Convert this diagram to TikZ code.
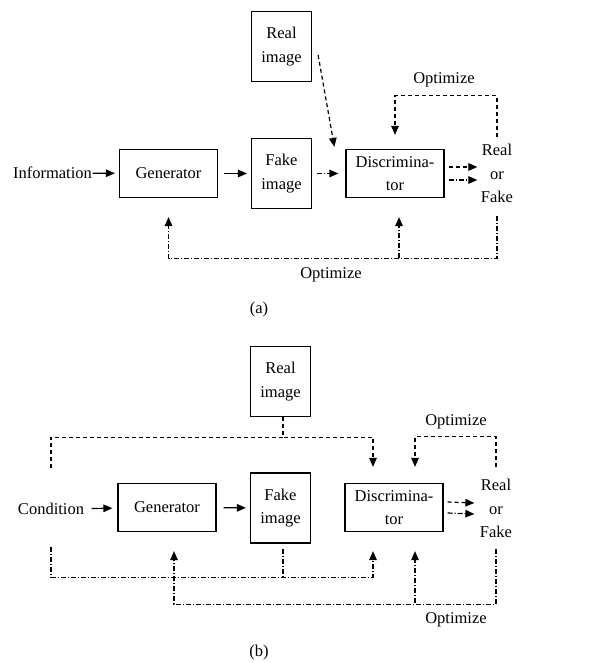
\documentclass[tikz,border=0pt]{standalone}
\usepackage{fontspec}
\setmainfont{Liberation Serif}
\usetikzlibrary{calc}
\usetikzlibrary{arrows.meta}

\begin{document}
\begin{tikzpicture}[x=1pt,y=-1pt,line width=1.2pt,
  font=\fontsize{16.5}{23.5}\selectfont,
  >={Triangle[length=9pt,width=7.5pt]},
  blk/.style={draw,minimum width=98pt,minimum height=48pt,inner sep=0pt,align=center},
  sqr/.style={draw,minimum width=60pt,minimum height=70pt,inner sep=0pt,align=center},
  txt/.style={inner sep=0pt,align=center},
  dline/.style={dash pattern=on 4pt off 3pt},
  dotline/.style={dash pattern=on 5pt off 2pt on 1pt off 2pt}]
  \useasboundingbox (0,0) rectangle (611,663);

  % (a)
  \node[txt] (info) at (52.5,173) {Information};
  \node[blk] (gen) at (168.5,173.5) {Generator};
  \node[sqr] (fake) at (281.5,173.5) {Fake\\image};
  \node[sqr] (real) at (281.5,46.5) {Real\\image};
  \node[blk] (disc) at (395,173.5) {Discrimina-\\tor};
  \node[txt] (rf) at (497,173.5) {Real\\or\\Fake};
  \node[txt] (opta) at (444,80) {Optimize};
  \node[txt] (optb) at (331,275) {Optimize};
  \node[txt] (capa) at (259,310) {(a)};

  \draw[->,shorten >=4pt] (info) -- (gen);
  \draw[->,shorten <=6pt,shorten >=4pt] (gen) -- (fake);
  \draw[->,dotline,shorten <=5pt,shorten >=7pt] (fake) -- (disc);
  \draw[->,dline] ([shift={(6,8.5)}]real.east) -- ([shift={(-11,-2)}]disc.north west);
  \draw[->,dline] ([shift={(4,-6.5)}]disc.east) -- ([shift={(-3,-6.5)}]rf.west);
  \draw[->,dotline] ([shift={(4,6.5)}]disc.east) -- ([shift={(-3,6.5)}]rf.west);
  \draw[->,dline] ([yshift=7pt]rf.north) -- ++(0,-41) -| ([yshift=14pt]disc.north);
  \draw[->,dotline] ([yshift=-13pt]rf.south) -- ++(0,42) -| ([yshift=-19pt]gen.south);
  \draw[->,dotline] ([shift={(4,60)}]disc.south) -- ([shift={(4,19)}]disc.south);

  % (b)
  \node[txt] (cond) at (51,509) {Condition};
  \node[blk] (gen2) at (167,507.5) {Generator};
  \node[sqr] (fake2) at (280.5,508) {Fake\\image};
  \node[sqr] (real2) at (280.5,381.5) {Real\\image};
  \node[blk] (disc2) at (394,507.5) {Discrimina-\\tor};
  \node[txt] (rf2) at (496,508.5) {Real\\or\\Fake};
  \node[txt] (optc) at (456,422) {Optimize};
  \node[txt] (optd) at (456,620) {Optimize};
  \node[txt] (capb) at (259,653) {(b)};

  \draw[->,shorten <=7pt,shorten >=5pt] (cond) -- (gen2);
  \draw[->,shorten <=7pt,shorten >=4pt] (gen2) -- (fake2);
  \draw[->,dline] ([xshift=2.5pt]real2.south) -- ++(0,20) -| ([shift={(-21,-16)}]disc2.north);
  \draw[dline] ([xshift=2.5pt]real2.south) ++(0,20) -| ([yshift=34pt]cond.north);
  \draw[->,dline] ([yshift=12pt]rf2.north) -- ++(0,-30) -| ([shift={(21,-16)}]disc2.north);
  \draw[->,dline] ([shift={(4,-5.5)}]disc2.east) -- ([shift={(-5,-5.5)}]rf2.west);
  \draw[->,dotline] ([shift={(4,5.5)}]disc2.east) -- ([shift={(-5,5.5)}]rf2.west);
  \draw[->,dotline] ([yshift=-32pt]cond.south) -- ++(0,30) -| ([shift={(-21,19)}]disc2.south);
  \draw[dotline] ([shift={(2.5,5)}]fake2.south) -- ++(0,30);
  \draw[->,dotline] ([yshift=-11pt]rf2.south) -- ++(0,55) -| ([shift={(7,19)}]gen2.south);
  \draw[->,dotline] ([shift={(21,71)}]disc2.south) -- ([shift={(21,19)}]disc2.south);
\end{tikzpicture}
\end{document}
